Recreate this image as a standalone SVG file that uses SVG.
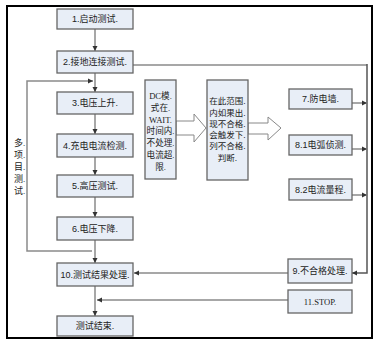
<svg xmlns="http://www.w3.org/2000/svg" width="381" height="349" viewBox="0 0 381 349">
<style>
.box{fill:#e8eef7;stroke:#666;stroke-width:1.3}
.lbl{font-family:"Liberation Sans","Noto Sans CJK SC",sans-serif;font-size:9px;fill:#222;text-anchor:middle;dominant-baseline:central}
.sm{font-family:"Liberation Sans","Noto Sans CJK SC",sans-serif;font-size:8.5px;fill:#222;text-anchor:middle;dominant-baseline:central}
.ser{font-family:"Liberation Serif","Noto Sans CJK SC",serif;font-size:8.6px;fill:#222;text-anchor:middle;dominant-baseline:central}
.side{font-family:"Liberation Serif","Noto Sans CJK SC",serif;font-size:9px;fill:#222;dominant-baseline:central}
.ln{fill:none;stroke:#8a8a8a;stroke-width:1.5}
.dk{fill:none;stroke:#555;stroke-width:1.5}
.blk{fill:#fff;stroke:#888;stroke-width:1}
</style>
<defs>
<marker id="ah" viewBox="0 0 6 6" refX="6" refY="3" markerWidth="3.5" markerHeight="3.5" orient="auto" markerUnits="strokeWidth">
<path d="M0,0 L6,3 L0,6 z" fill="#333"/>
</marker>
</defs>
<rect x="7" y="6" width="365" height="332" fill="#fff" stroke="#000" stroke-width="2"/>
<g id="connectors">
<line class="ln" x1="95" y1="29" x2="95" y2="51" marker-end="url(#ah)"/>
<line class="ln" x1="95" y1="73" x2="95" y2="92" marker-end="url(#ah)"/>
<line class="ln" x1="95" y1="114" x2="95" y2="134" marker-end="url(#ah)"/>
<line class="ln" x1="95" y1="157" x2="95" y2="175" marker-end="url(#ah)"/>
<line class="ln" x1="95" y1="197" x2="95" y2="217" marker-end="url(#ah)"/>
<line class="ln" x1="95" y1="240" x2="95" y2="263" marker-end="url(#ah)"/>
<line class="ln" x1="95" y1="286" x2="95" y2="316" marker-end="url(#ah)"/>
<polyline class="ln" points="92,251 27,251 27,81 93,81" marker-end="url(#ah)"/>
<polyline class="ln" points="133,65 367,65"/>
<polyline class="dk" points="367,64 367,273 352,273" marker-end="url(#ah)"/>
<line class="ln" x1="352" y1="103" x2="367" y2="103" marker-end="url(#ah)"/>
<line class="ln" x1="352" y1="149" x2="367" y2="149" marker-end="url(#ah)"/>
<line class="ln" x1="352" y1="195" x2="367" y2="195" marker-end="url(#ah)"/>
<line class="ln" x1="288" y1="273" x2="134" y2="273" marker-end="url(#ah)"/>
<line class="ln" x1="288" y1="300" x2="97" y2="300" marker-end="url(#ah)"/>
</g>
<g id="arrow1"><path class="blk" d="M176,121 H194 V114 L206,128 L194,142 V135 H176 z"/></g>
<g id="arrow2"><path class="blk" d="M248,123 H268 V117 L281,128 L268,140 V134 H248 z"/></g>
<g id="n1"><rect class="box" x="57" y="9" width="76" height="20"/><text class="lbl" x="95" y="19">1.启动测试.</text></g>
<g id="n2"><rect class="box" x="57" y="51" width="76" height="22"/><text class="lbl" x="95" y="62">2.接地连接测试.</text></g>
<g id="n3"><rect class="box" x="57" y="92" width="76" height="22"/><text class="lbl" x="95" y="103">3.电压上升.</text></g>
<g id="n4"><rect class="box" x="57" y="134" width="76" height="23"/><text class="lbl" x="95" y="145.5">4.充电电流检测.</text></g>
<g id="n5"><rect class="box" x="57" y="175" width="76" height="22"/><text class="lbl" x="95" y="186">5.高压测试.</text></g>
<g id="n6"><rect class="box" x="57" y="217" width="76" height="23"/><text class="lbl" x="95" y="228.5">6.电压下降.</text></g>
<g id="n10"><rect class="box" x="57" y="263" width="76" height="23"/><text class="lbl" x="95" y="274.5">10.测试结果处理.</text></g>
<g id="nEnd"><rect class="box" x="57" y="316" width="76" height="20"/><text class="lbl" x="95" y="326">测试结束.</text></g>
<g id="nDC"><rect class="box" x="145" y="80" width="31" height="99"/>
<text class="ser" x="160.5" y="96">DC模.</text>
<text class="ser" x="160.5" y="108">式在.</text>
<text class="ser" x="160.5" y="119.5">WAIT.</text>
<text class="ser" x="160.5" y="131">时间内.</text>
<text class="ser" x="160.5" y="143">不处理.</text>
<text class="ser" x="160.5" y="155">电流超.</text>
<text class="ser" x="160.5" y="167">限.</text>
</g>
<g id="nRange"><rect class="box" x="207" y="80" width="41" height="100"/>
<text class="sm" x="227.5" y="101">在此范围.</text>
<text class="sm" x="227.5" y="112.5">内如果出.</text>
<text class="sm" x="227.5" y="123.5">现不合格.</text>
<text class="sm" x="227.5" y="134.5">会触发下.</text>
<text class="sm" x="227.5" y="145.5">列不合格.</text>
<text class="sm" x="227.5" y="158">判断.</text>
</g>
<g id="n7"><rect class="box" x="289" y="89" width="63" height="20"/><text class="lbl" x="320.5" y="99">7.防电墙.</text></g>
<g id="n81"><rect class="box" x="289" y="135" width="63" height="20"/><text class="lbl" x="320.5" y="145">8.1电弧侦测.</text></g>
<g id="n82"><rect class="box" x="289" y="179" width="63" height="21"/><text class="lbl" x="320.5" y="189.5">8.2电流量程.</text></g>
<g id="n9"><rect class="box" x="288" y="259" width="64" height="24"/><text class="lbl" x="320" y="271">9.不合格处理.</text></g>
<g id="n11"><rect class="box" x="288" y="290" width="64" height="23"/><text class="ser" x="320" y="301.5">11.STOP.</text></g>
<g id="loopLabel">
<text class="side" x="14" y="143">多.</text>
<text class="side" x="14" y="155">项.</text>
<text class="side" x="14" y="167">目.</text>
<text class="side" x="14" y="179">测.</text>
<text class="side" x="14" y="191">试.</text>
</g>
</svg>
